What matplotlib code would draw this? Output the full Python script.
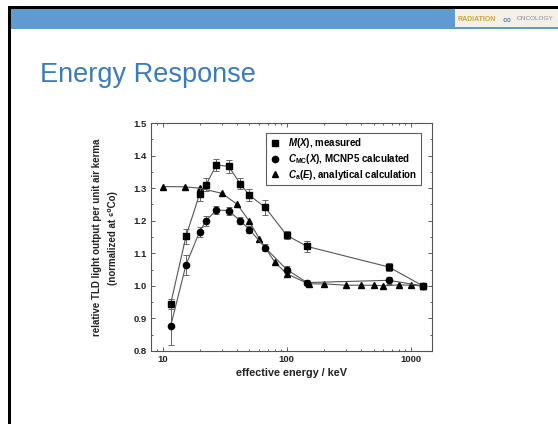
import matplotlib
matplotlib.use("Agg")
import matplotlib.pyplot as plt
from matplotlib.patches import Rectangle
from matplotlib.lines import Line2D
from matplotlib.ticker import FixedLocator, MultipleLocator, NullFormatter

# datos
energia = [11.6, 15.4, 19.8, 22.4, 27, 34, 42, 50, 67, 100, 146, 662, 1250]
medido = [0.945, 1.152, 1.281, 1.310, 1.371, 1.367, 1.314, 1.278, 1.241, 1.155, 1.121, 1.058, 1.0]
medido_err = [0.015, 0.022, 0.02, 0.02, 0.018, 0.02, 0.018, 0.018, 0.022, 0.012, 0.018, 0.013, 0.0]
mcnp = [0.877, 1.064, 1.166, 1.200, 1.233, 1.231, 1.200, 1.173, 1.117, 1.050, 1.010, 1.017, 1.0]
mcnp_err = [0.06, 0.03, 0.015, 0.015, 0.012, 0.012, 0.01, 0.01, 0.01, 0.01, 0.008, 0.01, 0.0]

energia_an = [10, 15, 20, 30, 40, 50, 60, 80, 100, 150, 200, 300, 400, 500, 600, 800, 1000, 1250]
analitico = [1.305, 1.304, 1.300, 1.284, 1.250, 1.198, 1.145, 1.073, 1.037, 1.006,
             1.006, 1.002, 1.002, 1.002, 1.000, 1.003, 1.002, 1.000]

etiquetas = [r"$\mathit{M}(\mathit{X})$, measured",
             r"$\mathit{C}_{\mathrm{MC}}(\mathit{X})$, MCNP5 calculated",
             r"$\mathit{C}_{\mathrm{a}}(\mathit{E})$, analytical calculation"]

plt.rcParams['font.family'] = ['Liberation Sans', 'DejaVu Sans']
plt.rcParams['mathtext.fontset'] = 'custom'
plt.rcParams['mathtext.rm'] = 'Liberation Sans:bold'
plt.rcParams['mathtext.it'] = 'Liberation Sans:italic:bold'

W, H = 558, 424
fig = plt.figure(figsize=(W / 100, H / 100), dpi=100)


def fx(px):
    return px / W


def fy(py):
    return 1 - py / H


def caja(x0, y0, x1, y1, color):
    fig.add_artist(Rectangle((fx(x0), fy(y1)), fx(x1) - fx(x0), fy(y0) - fy(y1),
                             transform=fig.transFigure, facecolor=color,
                             edgecolor='none', zorder=0))


# marco de la diapositiva
caja(8, 9, 558, 29, '#5E9BD0')
caja(8, 6, 558, 9, 'black')
caja(8, 6, 11, 424, 'black')
caja(455, 9, 558, 27, '#F3F0E8')
fig.text(fx(457), fy(19.5), "RADIATION", color='#C9A43C', fontsize=5,
         fontweight='bold', va='center')
fig.text(fx(503), fy(19), "\u221e", color='#3D6FA8', fontsize=8, va='center')
fig.text(fx(517), fy(18.5), "ONCOLOGY", color='#7E8A96', fontsize=4.6,
         va='center')

fig.text(fx(40), fy(82), "Energy Response", color='#3A7BBF', fontsize=19.5,
         va='baseline')

# grafico
ax = fig.add_axes([fx(151), fy(351), fx(432) - fx(151), fy(123) - fy(351)])

ax.errorbar(energia, medido, yerr=medido_err, fmt='s-', color='#555555',
            mfc='black', mec='black', ms=4.3, lw=0.8, ecolor='#666666',
            elinewidth=0.7, capsize=2.2, capthick=0.7, zorder=3)
ax.errorbar(energia, mcnp, yerr=mcnp_err, fmt='o-', color='#555555',
            mfc='black', mec='black', ms=4.5, lw=0.8, ecolor='#666666',
            elinewidth=0.7, capsize=2.2, capthick=0.7, zorder=3)
ax.plot(energia_an, analitico, '^-', color='#555555', mfc='black', mec='black',
        ms=4.6, lw=0.8, zorder=2)

ax.set_xscale('log')
ax.set_xlim(8.05, 1480)
ax.set_ylim(0.8, 1.5)
ax.xaxis.set_major_locator(FixedLocator([10, 100, 1000]))
ax.set_xticklabels(['10', '100', '1000'])
ax.xaxis.set_minor_formatter(NullFormatter())
ax.set_yticks([0.8, 0.9, 1.0, 1.1, 1.2, 1.3, 1.4, 1.5])
ax.set_yticklabels(['0.8', '0.9', '1.0', '1.1', '1.2', '1.3', '1.4', '1.5'])
ax.yaxis.set_minor_locator(MultipleLocator(0.05))

ax.tick_params(which='both', direction='in', top=True, right=True,
               color='#444444', width=0.6, labelsize=6.8, labelcolor='#222222',
               pad=3)
ax.tick_params(which='major', length=3)
ax.tick_params(which='minor', length=1.5)
for t in ax.get_xticklabels() + ax.get_yticklabels():
    t.set_fontweight('bold')
for s in ax.spines.values():
    s.set_color('#555555')
    s.set_linewidth(0.8)

ax.set_xlabel("effective energy / keV", fontsize=7.8, fontweight='bold',
              color='#222222', labelpad=3)
fig.text(fx(97), fy(237), "relative TLD light output per unit air kerma",
         rotation=90, fontsize=7, fontweight='bold', color='#222222',
         ha='center', va='center')
fig.text(fx(113), fy(238), "(normalized at \u2076\u2070Co)",
         rotation=90, fontsize=7, fontweight='bold', color='#222222',
         ha='center', va='center')

marcas = [Line2D([], [], ls='none', marker=m, color='black', ms=4.5)
          for m in ['s', 'o', '^']]
leg = ax.legend(marcas, etiquetas, loc='upper right',
                bbox_to_anchor=(0.96, 0.957), borderaxespad=0, fancybox=False,
                edgecolor='#333333', prop={'size': 7, 'weight': 'bold'},
                handlelength=1.0, handletextpad=0.9, labelspacing=0.18,
                borderpad=0.35)
leg.get_frame().set_linewidth(0.8)

fig.savefig("out.png", dpi=100)
